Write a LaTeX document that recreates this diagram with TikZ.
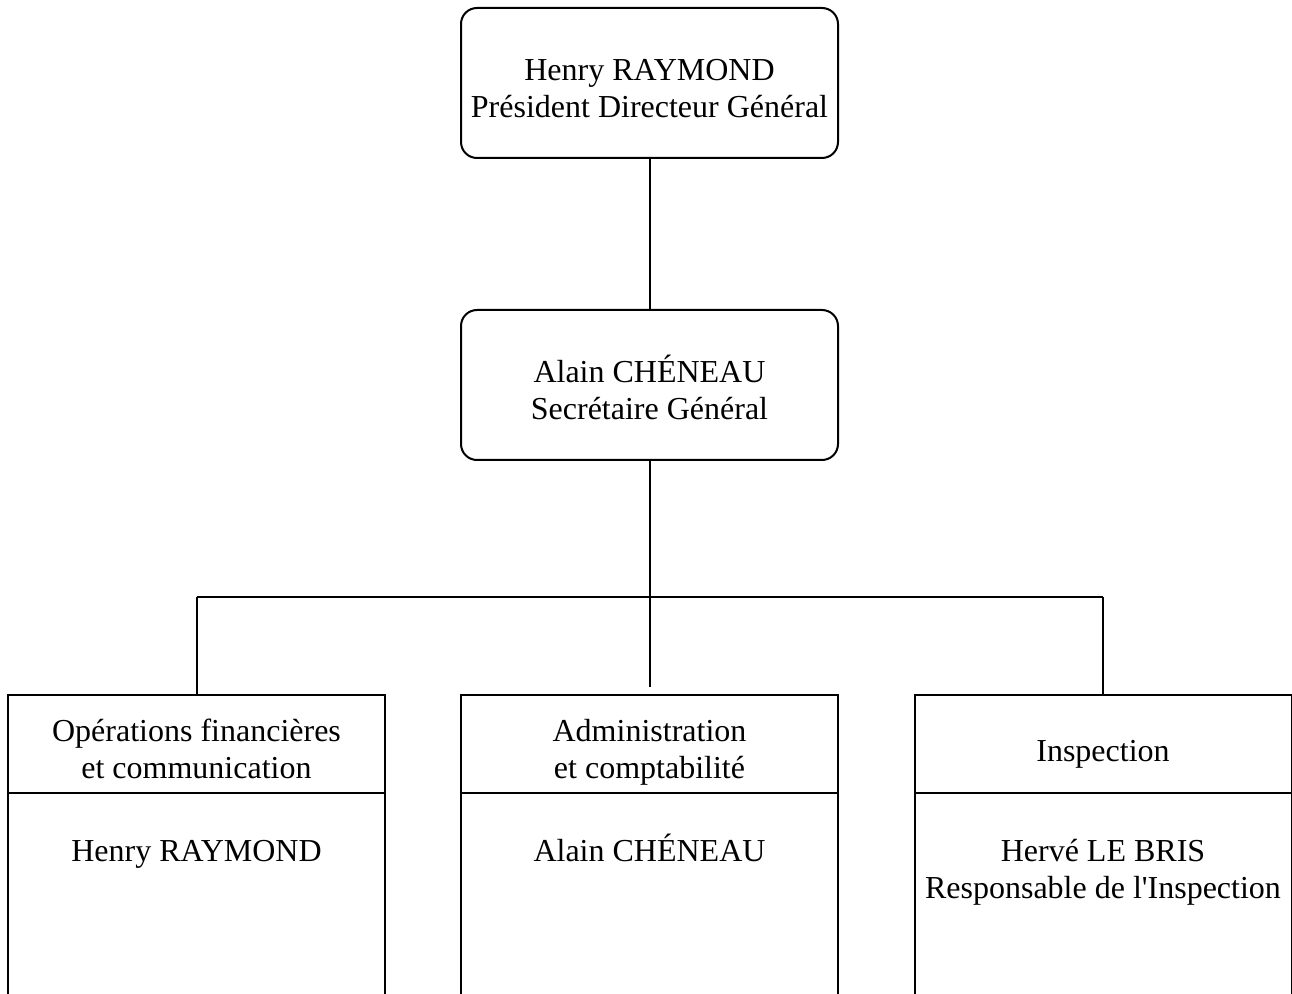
\documentclass[tikz,border=0pt]{standalone}
\usepackage{fontspec}
\setmainfont{Liberation Serif}[Ligatures=TeXOff]
\begin{document}
\begin{tikzpicture}[x=0.5pt,y=-0.5pt,
  line width=1pt,
  every node/.style={font=\fontsize{16}{18.5}\selectfont, align=center, inner sep=0pt},
  topbox/.style={draw, rounded corners=8pt, minimum width=188.5pt, minimum height=75pt},
  headbox/.style={draw, minimum width=188.5pt, minimum height=49pt},
  bodybox/.style={draw, minimum width=188.5pt, minimum height=153.5pt},
  txt/.style={draw=none, anchor=base}]
\useasboundingbox (0,0) rectangle (1292,994);
\clip (0,0) rectangle (1292,994);
% boxes
\node[topbox] (pdg) at (649.5,83) {};
\node[topbox] (sg) at (649.5,385) {};
\node[headbox] (h1) at (196.5,744) {};
\node[headbox] (h2) at (649.5,744) {};
\node[headbox] (h3) at (1103,744) {};
\node[bodybox] (b1) at (196.5,946.5) {};
\node[bodybox] (b2) at (649.5,946.5) {};
\node[bodybox] (b3) at (1103,946.5) {};
% texts (anchored at the last baseline)
\node[txt] (tp) at (649.5,118) {Henry RAYMOND\\Président Directeur Général};
\node[txt] (ts) at (649.5,420) {Alain CHÉNEAU\\Secrétaire Général};
\node[txt] (th1) at (196.5,778) {Opérations financières\\et communication};
\node[txt] (th2) at (649.5,778) {Administration\\et comptabilité};
\node[txt] (th3) at (1103,762) {Inspection};
\node[txt] (t1) at (196.5,862) {Henry RAYMOND};
\node[txt] (t2) at (649.5,862) {Alain CHÉNEAU};
\node[txt] (t3) at (1103,899) {Hervé LE BRIS\\Responsable de l'Inspection};
% connectors
\coordinate (bus) at (649.5,597);
\coordinate (bL) at (196.5,597);
\coordinate (bR) at (1103,597);
\coordinate (cEnd) at (649.5,687);
\draw (pdg) -- (sg);
\draw (sg.south) -- (bus);
\draw (bL) -- (bR);
\draw (bL) -- (h1.north);
\draw (bR) -- (h3.north);
\draw (bus) -- (cEnd);
\end{tikzpicture}
\end{document}
